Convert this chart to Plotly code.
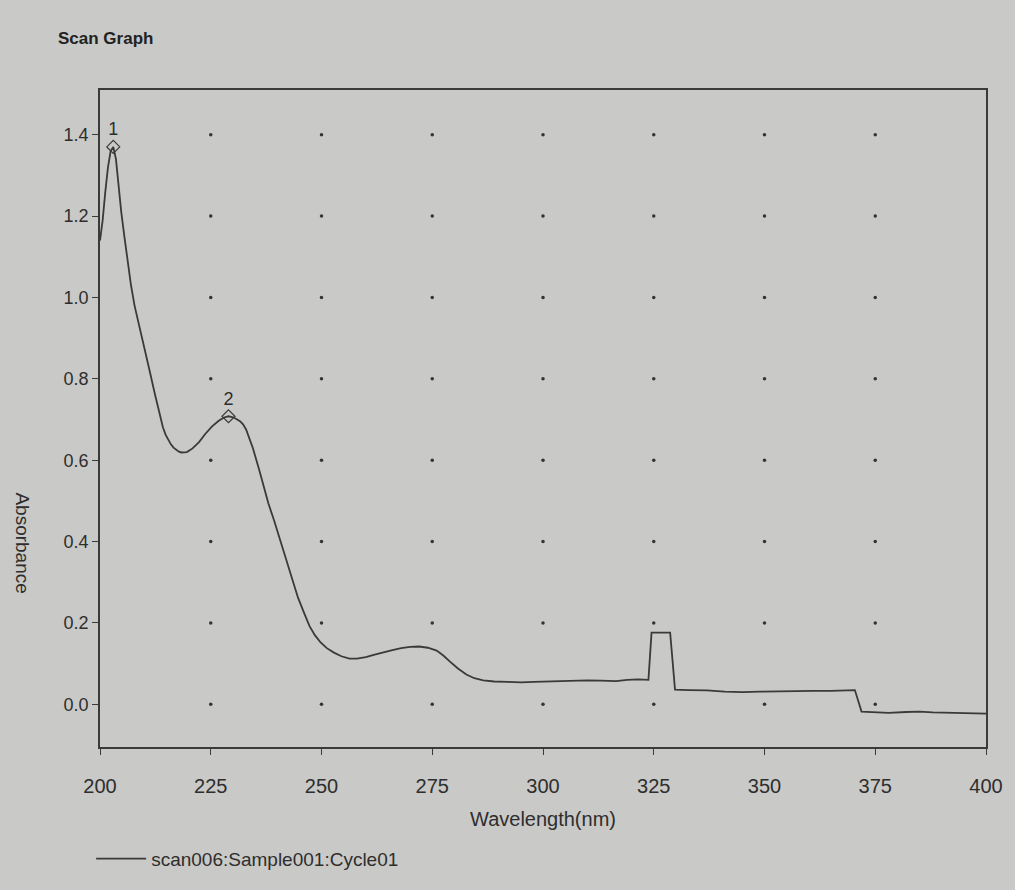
import plotly.graph_objects as go

# ---- data ----
wavelength = [200.0, 200.6, 201.2, 201.8, 202.4, 203.0, 203.6, 204.2, 204.8, 205.5,
              206.2, 207.0, 207.8, 208.8, 210.0, 211.2, 212.4, 213.0, 213.6, 214.2,
              214.8, 215.4, 216.0, 216.6, 217.2, 217.8, 218.4, 219.6, 220.9, 222.4,
              223.8, 225.3, 226.8, 228.0, 229.0, 230.2, 231.6, 232.3, 233.0, 233.7,
              234.5, 235.9, 237.0, 238.0, 239.3, 240.5, 241.8, 243.2, 244.7, 246.2,
              247.3, 248.5, 249.8, 251.2, 252.8, 254.5, 256.3, 258.0, 260.0, 262.0,
              264.0, 266.0, 268.0, 270.0, 272.0, 274.0, 276.0, 277.5, 279.0, 280.8,
              282.7, 284.5, 286.5, 289.0, 292.0, 295.0, 298.0, 301.0, 304.0, 307.0,
              310.0, 313.0, 316.5, 319.0, 321.5, 323.8, 324.5, 328.7, 329.8, 333.0,
              337.0, 341.0, 345.0, 349.0, 353.0, 357.0, 361.0, 365.0, 368.0, 370.4,
              371.9, 375.0, 378.0, 382.0, 385.0, 388.0, 392.0, 396.0, 400.0]
absorbance = [1.14, 1.19, 1.26, 1.32, 1.36, 1.37, 1.34, 1.27, 1.21, 1.15,
              1.09, 1.03, 0.98, 0.935, 0.877, 0.82, 0.762, 0.733, 0.705, 0.681,
              0.663, 0.649, 0.639, 0.631, 0.625, 0.621, 0.619, 0.62, 0.629, 0.645,
              0.665, 0.683, 0.697, 0.705, 0.708, 0.705, 0.696, 0.688, 0.675, 0.655,
              0.63, 0.578, 0.535, 0.494, 0.452, 0.41, 0.365, 0.312, 0.262, 0.221,
              0.192, 0.170, 0.152, 0.138, 0.127, 0.118, 0.112, 0.112, 0.116, 0.122,
              0.128, 0.133, 0.138, 0.141, 0.142, 0.139, 0.132, 0.12, 0.105, 0.088,
              0.073, 0.064, 0.059, 0.056, 0.055, 0.054, 0.055, 0.056, 0.056, 0.057,
              0.059, 0.058, 0.057, 0.060, 0.061, 0.060, 0.176, 0.176, 0.036, 0.035,
              0.034, 0.031, 0.030, 0.031, 0.032, 0.032, 0.033, 0.033, 0.034, 0.035,
              -0.018, -0.020, -0.021, -0.019, -0.018, -0.020, -0.021, -0.022, -0.023]

peak_labels = ["1", "2"]
peak_wavelength = [203.0, 229.0]
peak_absorbance = [1.37, 0.708]

x_ticks = [200, 225, 250, 275, 300, 325, 350, 375, 400]
y_ticks = [0.0, 0.2, 0.4, 0.6, 0.8, 1.0, 1.2, 1.4]
y_tick_text = ["0.0", "0.2", "0.4", "0.6", "0.8", "1.0", "1.2", "1.4"]

series_name = "scan006:Sample001:Cycle01"

# ---- styling ----
BG = "#c9c9c7"
INK = "#2e2e2e"
FONT = "Liberation Sans Narrow, Arial Narrow, Liberation Sans, Arial, sans-serif"

fig = go.Figure()

# grid dots at tick intersections (interior only)
gx, gy = [], []
for xv in x_ticks[1:-1]:
    for yv in y_ticks:
        gx.append(xv)
        gy.append(yv)
fig.add_trace(go.Scatter(x=gx, y=gy, mode="markers",
                         marker=dict(size=3.5, color="#333333"),
                         showlegend=False, hoverinfo="skip"))

fig.add_trace(go.Scatter(x=wavelength, y=absorbance, mode="lines",
                         name=series_name,
                         line=dict(color="#3a3a3a", width=1.8)))

fig.add_trace(go.Scatter(x=peak_wavelength, y=peak_absorbance, mode="markers+text",
                         text=peak_labels, textposition="top center",
                         textfont=dict(family=FONT, size=18, color=INK),
                         marker=dict(symbol="diamond-open", size=10,
                                     color="#3a3a3a", line=dict(width=1.2)),
                         showlegend=False, hoverinfo="skip"))

axis_common = dict(showline=True, linecolor="#3a3a3a", linewidth=1.6, mirror=True,
                   showgrid=False, zeroline=False, ticks="outside", ticklen=6,
                   tickcolor="#3a3a3a", tickwidth=1.2)

fig.update_xaxes(range=[200, 400], tickvals=x_ticks,
                 tickfont=dict(family=FONT, size=20, color=INK),
                 ticklabelstandoff=14,
                 title=dict(text="Wavelength(nm)", font=dict(family=FONT, size=20, color=INK),
                            standoff=16),
                 **axis_common)
fig.update_yaxes(range=[-0.105, 1.51], tickvals=y_ticks, ticktext=y_tick_text,
                 tickfont=dict(family=FONT, size=18, color=INK),
                 **axis_common)

fig.add_annotation(text="Absorbance", xref="paper", yref="paper",
                   x=-0.087, y=0.31, textangle=90, showarrow=False,
                   font=dict(family=FONT, size=19, color=INK),
                   xanchor="center", yanchor="middle")

fig.add_annotation(text="Scan Graph", xref="paper", yref="paper",
                   x=-0.05, y=1.078, showarrow=False,
                   font=dict(family=FONT, size=17, color="#222222", weight="bold"),
                   xanchor="left", yanchor="middle")

fig.update_layout(
    width=1015, height=890,
    margin=dict(l=100, r=25, t=90, b=140),
    paper_bgcolor=BG, plot_bgcolor=BG,
    showlegend=True,
    legend=dict(x=-0.01, y=-0.17, xanchor="left", yanchor="middle",
                orientation="h", bgcolor="rgba(0,0,0,0)",
                font=dict(family=FONT, size=19, color=INK), itemwidth=50),
)

fig.write_html("out.html")
